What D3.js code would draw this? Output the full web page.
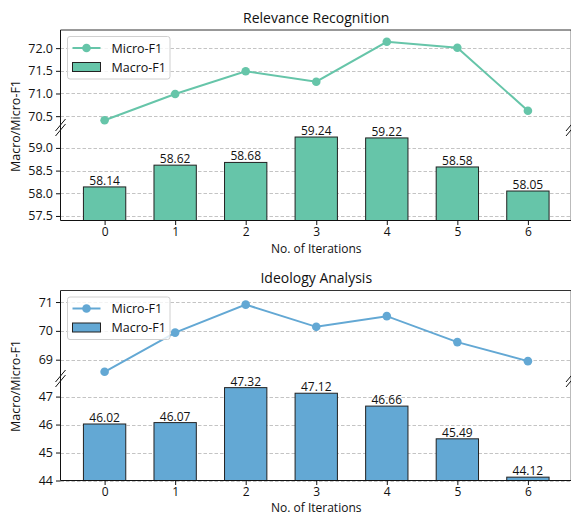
<!DOCTYPE html>
<html>
<head>
<meta charset="utf-8">
<script src="https://cdn.jsdelivr.net/npm/d3@7"></script>
<style>
  body { margin: 0; background: #fff; }
  svg text { font-family: "Open Sans", "Noto Sans", sans-serif; fill: #111; }
</style>
</head>
<body>
<script>
// data
const iterations = [0, 1, 2, 3, 4, 5, 6];
const relMicro = [70.41, 70.99, 71.49, 71.26, 72.14, 72.01, 70.62];
const relMacro = [58.14, 58.62, 58.68, 59.24, 59.22, 58.58, 58.05];
const ideoMicro = [68.58, 69.94, 70.91, 70.14, 70.51, 69.61, 68.95];
const ideoMacro = [46.02, 46.07, 47.32, 47.12, 46.66, 45.49, 44.12];
const relMicroTicks = [70.5, 71.0, 71.5, 72.0];
const relMacroTicks = [57.5, 58.0, 58.5, 59.0];
const ideoMicroTicks = [69, 70, 71];
const ideoMacroTicks = [44, 45, 46, 47];

function main() {
  const W = 571, H = 514;
  const svg = d3.select("body").append("svg")
      .attr("width", W).attr("height", H);

  const x = d3.scaleLinear().domain([-0.625, 6.625]).range([60.5, 572]);
  const barW = x(0.6) - x(0);

  const panels = [
    {title: "Relevance Recognition", color: "#66c5a9", titleY: 23,
     micro: relMicro, macro: relMacro, microTicks: relMicroTicks, macroTicks: relMacroTicks,
     fmt: d3.format(".1f"),
     top: {domain: [70.25, 72.4], range: [127.5, 30]},
     bot: {domain: [57.4, 59.45], range: [220.5, 127.5]},
     breakY: 127.5, ylabelY: 126, xlabelY: 252.5},
    {title: "Ideology Analysis", color: "#63a8d4", titleY: 283,
     micro: ideoMicro, macro: ideoMacro, microTicks: ideoMicroTicks, macroTicks: ideoMacroTicks,
     fmt: d3.format("d"),
     top: {domain: [68.4, 71.4], range: [377, 290.5]},
     bot: {domain: [44, 47.7], range: [480.5, 377]},
     breakY: 378.5, ylabelY: 386, xlabelY: 511.5}
  ];

  panels.forEach(p => {
    const g = svg.append("g");
    const yT = d3.scaleLinear().domain(p.top.domain).range(p.top.range);
    const yB = d3.scaleLinear().domain(p.bot.domain).range(p.bot.range);
    const x0 = x.range()[0], x1 = x.range()[1];

    // grid lines
    [[yT, p.microTicks], [yB, p.macroTicks]].forEach(([y, ticks]) => {
      g.append("g").selectAll("line").data(ticks).join("line")
        .attr("x1", x0).attr("x2", x1)
        .attr("y1", d => Math.round(y(d)) + 0.5).attr("y2", d => Math.round(y(d)) + 0.5)
        .attr("stroke", "#c4c4c4").attr("stroke-width", 1)
        .attr("stroke-dasharray", "3.5,2");
    });

    // bars
    g.append("g").selectAll("rect").data(p.macro).join("rect")
      .attr("x", (d, i) => x(iterations[i]) - barW / 2)
      .attr("y", d => yB(d))
      .attr("width", barW)
      .attr("height", d => yB(p.bot.domain[0]) - yB(d))
      .attr("fill", p.color)
      .attr("stroke", "#222").attr("stroke-width", 1);

    g.append("g").selectAll("text").data(p.macro).join("text")
      .attr("x", (d, i) => x(iterations[i]))
      .attr("y", d => yB(d) - 2)
      .attr("text-anchor", "middle")
      .attr("font-size", "12px")
      .text(d => d.toFixed(2));

    // line
    const line = d3.line().x((d, i) => x(iterations[i])).y(d => yT(d));
    g.append("path").datum(p.micro)
      .attr("d", line).attr("fill", "none")
      .attr("stroke", p.color).attr("stroke-width", 2);
    g.append("g").selectAll("circle").data(p.micro).join("circle")
      .attr("cx", (d, i) => x(iterations[i])).attr("cy", d => yT(d))
      .attr("r", 4.3).attr("fill", p.color);

    // y axes
    const axT = g.append("g").attr("transform", `translate(${x0},0)`)
      .call(d3.axisLeft(yT).tickValues(p.microTicks).tickFormat(p.fmt).tickSize(4.5).tickPadding(3));
    const axB = g.append("g").attr("transform", `translate(${x0},0)`)
      .call(d3.axisLeft(yB).tickValues(p.macroTicks).tickFormat(p.fmt).tickSize(4.5).tickPadding(3));
    [axT, axB].forEach(a => {
      a.select(".domain").remove();
      a.selectAll("text").attr("font-size", "12.5px").attr("font-family", "Open Sans, sans-serif").attr("fill", "#111");
      a.selectAll("line").attr("stroke", "#111");
    });

    // x axis
    const axX = g.append("g").attr("transform", `translate(0,${p.bot.range[0]})`)
      .call(d3.axisBottom(x).tickValues(iterations).tickSize(4.5).tickPadding(2.5));
    axX.select(".domain").remove();
    axX.selectAll("text").attr("font-size", "12px").attr("font-family", "Open Sans, sans-serif").attr("fill", "#111");
    axX.selectAll("line").attr("stroke", "#111");

    // spines
    const top = p.top.range[1], bot = p.bot.range[0];
    g.append("line").attr("x1", x0).attr("x2", x0).attr("y1", top).attr("y2", bot).attr("stroke", "#111");
    g.append("line").attr("x1", 571).attr("x2", 571).attr("y1", top).attr("y2", bot).attr("stroke", "#777");
    g.append("line").attr("x1", x0).attr("x2", x1).attr("y1", top).attr("y2", top).attr("stroke", "#333");
    g.append("line").attr("x1", x0).attr("x2", x1).attr("y1", bot).attr("y2", bot).attr("stroke", "#111");

    // break marks
    [x0, 571].forEach(bx => {
      [-2.5, 2.5].forEach(off => {
        g.append("line")
          .attr("x1", bx - 5).attr("y1", p.breakY + off + 6)
          .attr("x2", bx + 5).attr("y2", p.breakY + off - 6)
          .attr("stroke", "#111").attr("stroke-width", 1);
      });
    });

    // title and labels
    g.append("text").attr("x", (x0 + x1) / 2).attr("y", p.titleY)
      .attr("text-anchor", "middle").attr("font-size", "14px").text(p.title);
    g.append("text").attr("x", (x0 + x1) / 2).attr("y", p.xlabelY)
      .attr("text-anchor", "middle").attr("font-size", "12px").text("No. of Iterations");
    g.append("text")
      .attr("transform", `translate(20,${p.ylabelY}) rotate(-90)`)
      .attr("text-anchor", "middle").attr("font-size", "12.5px").text("Macro/Micro-F1");

    // legend
    const lg = g.append("g").attr("transform", `translate(67.5,${top + 6.5})`);
    lg.append("rect").attr("width", 102.5).attr("height", 42.5).attr("rx", 2.5)
      .attr("fill", "#fff").attr("fill-opacity", 0.8).attr("stroke", "#d0d0d0");
    lg.append("line").attr("x1", 5).attr("x2", 33).attr("y1", 11.5).attr("y2", 11.5)
      .attr("stroke", p.color).attr("stroke-width", 2);
    lg.append("circle").attr("cx", 19).attr("cy", 11.5).attr("r", 4.3).attr("fill", p.color);
    lg.append("rect").attr("x", 5).attr("y", 26).attr("width", 28).attr("height", 9)
      .attr("fill", p.color).attr("stroke", "#222");
    lg.append("text").attr("x", 44).attr("y", 16).attr("font-size", "12.5px").text("Micro-F1");
    lg.append("text").attr("x", 44).attr("y", 35).attr("font-size", "12.5px").text("Macro-F1");
  });
}

main();
</script>
</body>
</html>
